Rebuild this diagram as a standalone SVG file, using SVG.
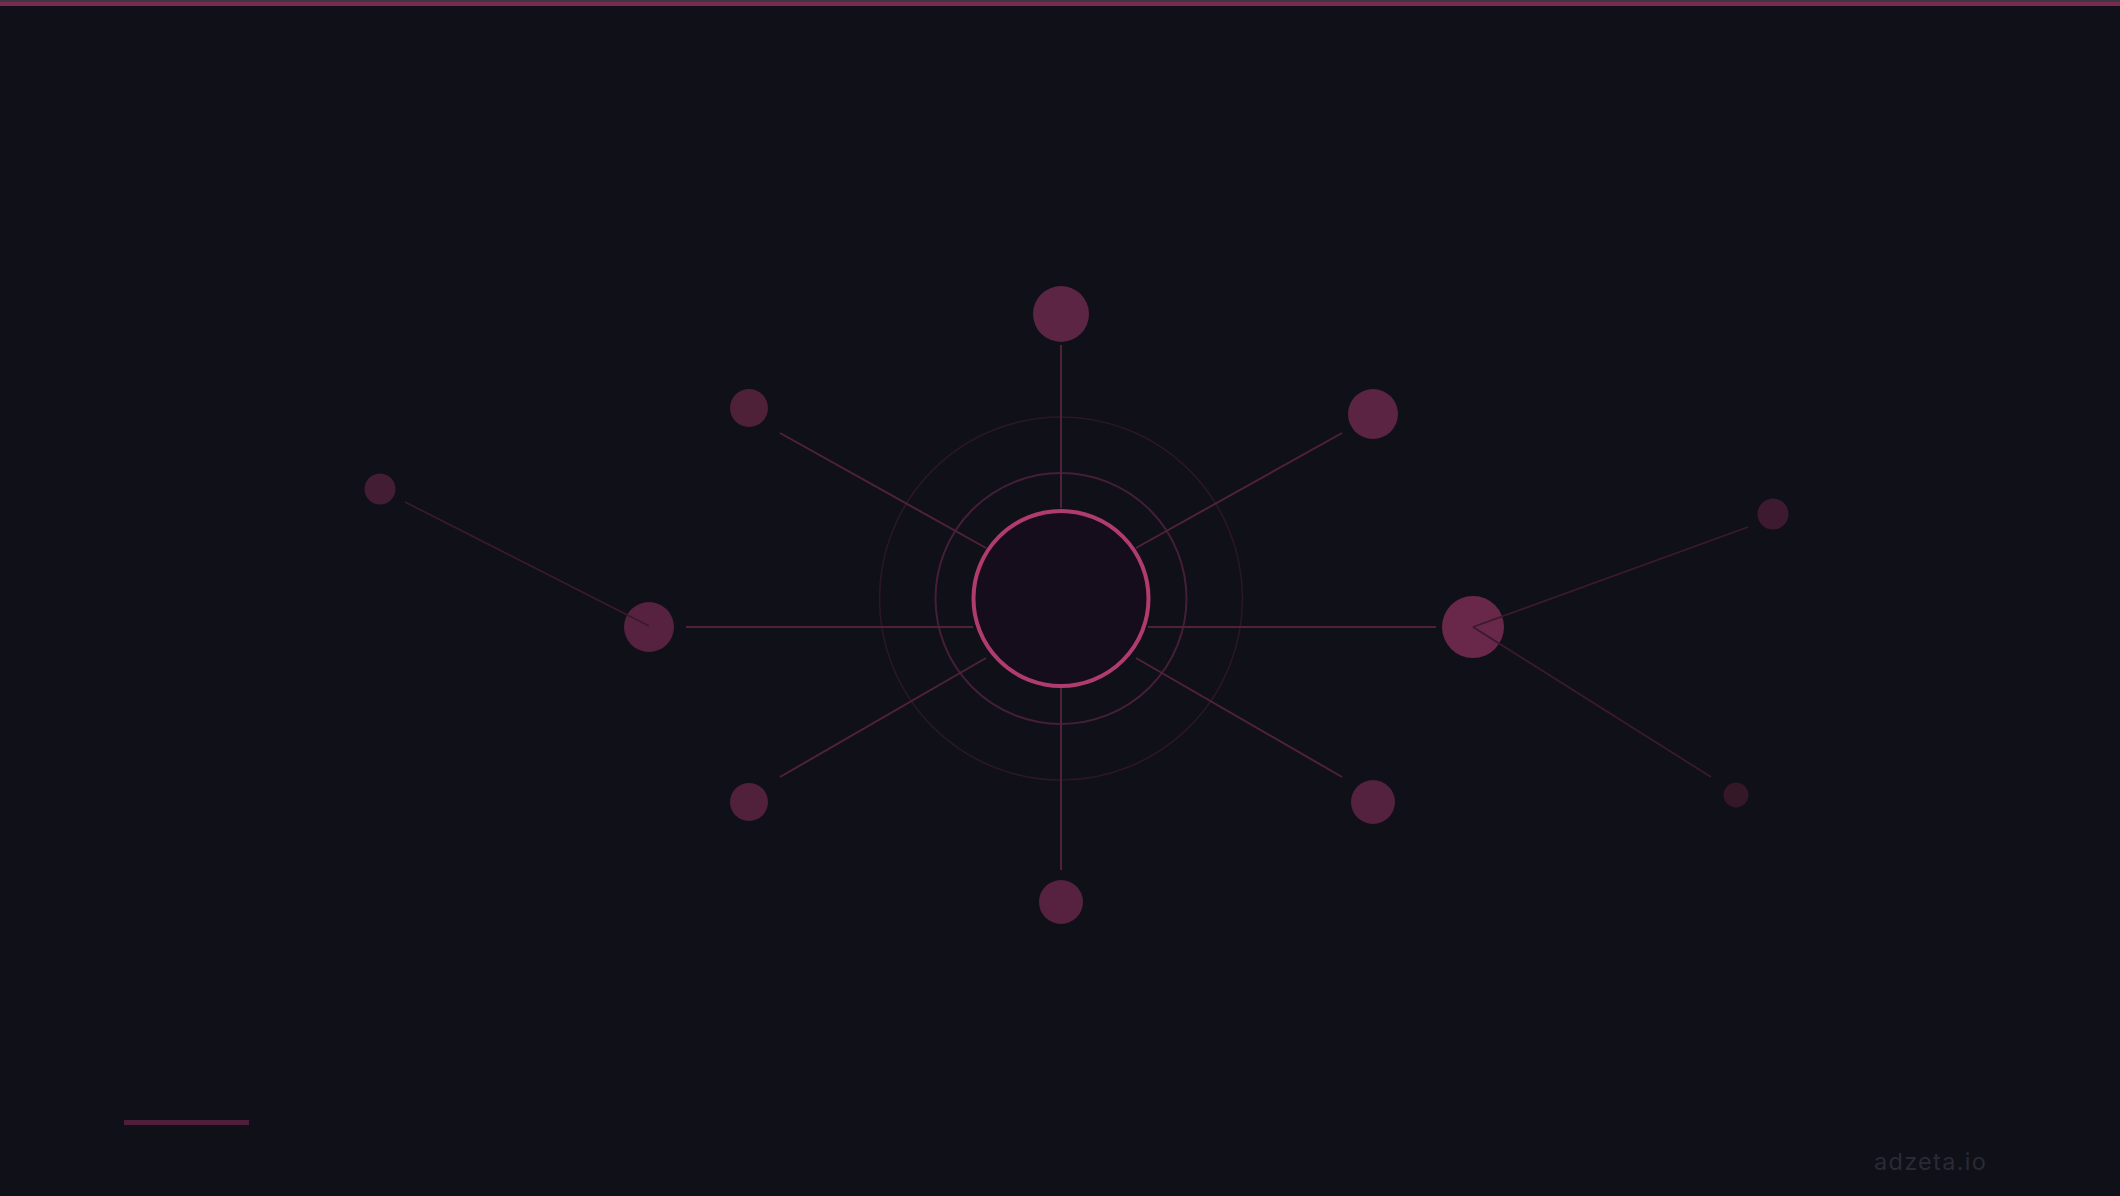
<svg xmlns="http://www.w3.org/2000/svg" width="2120" height="1196" viewBox="0 0 2120 1196">
  <style>
    .spoke { stroke: #4f2239; stroke-width: 2; fill: none; stroke-linecap: butt; }
    .far { stroke: #3b1a2e; stroke-width: 1.8; fill: none; }
    .ring-outer { fill: none; stroke: #2c1727; stroke-width: 1.6; }
    .ring-inner { fill: none; stroke: #451f36; stroke-width: 2; }
    .brand { font-family: Inter, "Liberation Sans", sans-serif; font-size: 23.5px; fill: #2a2a35; letter-spacing: 1.3px; }
  </style>
  <rect x="0" y="0" width="2120" height="1196" fill="#0f1018"/>
  <rect x="0" y="0" width="2120" height="2" fill="#3b383d"/>
  <rect x="0" y="2" width="2120" height="4" fill="#7a2a50"/>

  <g id="rings">
    <circle class="ring-outer" cx="1061" cy="598.5" r="181.5"/>
    <circle class="ring-inner" cx="1061" cy="598.5" r="125.5"/>
  </g>

  <g id="nodes">
    <g id="node-top"><circle cx="1061" cy="314" r="28" fill="#5c2543"/></g>
    <g id="node-upper-left"><circle cx="749" cy="408" r="19" fill="#4e2139"/></g>
    <g id="node-upper-right"><circle cx="1373" cy="414" r="25" fill="#5b2442"/></g>
    <g id="node-left"><circle cx="649" cy="627" r="25" fill="#57223f"/></g>
    <g id="node-right"><circle cx="1473" cy="627" r="31" fill="#69284a"/></g>
    <g id="node-lower-left"><circle cx="749" cy="802" r="19" fill="#51213b"/></g>
    <g id="node-lower-right"><circle cx="1373" cy="802" r="22" fill="#54223e"/></g>
    <g id="node-bottom"><circle cx="1061" cy="902" r="22" fill="#562240"/></g>
    <g id="node-far-left"><circle cx="380" cy="489" r="15.5" fill="#421d33"/></g>
    <g id="node-far-right-top"><circle cx="1773" cy="514" r="15.5" fill="#3d1a30"/></g>
    <g id="node-far-right-bottom"><circle cx="1736" cy="795" r="12.5" fill="#351828"/></g>
  </g>

  <g id="connectors">
    <line class="spoke" x1="1061" y1="345" x2="1061" y2="508"/>
    <line class="spoke" x1="1061" y1="688" x2="1061" y2="870"/>
    <line class="spoke" x1="686" y1="627" x2="973" y2="627"/>
    <line class="spoke" x1="1148" y1="627" x2="1436" y2="627"/>
    <line class="spoke" x1="780" y1="433" x2="986" y2="548"/>
    <line class="spoke" x1="1342" y1="433" x2="1136" y2="548"/>
    <line class="spoke" x1="780" y1="777" x2="986" y2="658"/>
    <line class="spoke" x1="1342" y1="777" x2="1136" y2="658"/>
    <line class="far" x1="405" y1="502" x2="649" y2="626"/>
    <line class="far" x1="1473" y1="627" x2="1748" y2="527"/>
    <line class="far" x1="1473" y1="627" x2="1711" y2="777"/>
  </g>

  <g id="node-center">
    <circle cx="1061" cy="598.5" r="87.5" fill="#150c1c" stroke="#b03c6e" stroke-width="4"/>
  </g>

  <rect x="124" y="1120" width="125" height="5" fill="#4e1f3a"/>
  <text class="brand" x="1874" y="1170">adzeta.io</text>
</svg>
